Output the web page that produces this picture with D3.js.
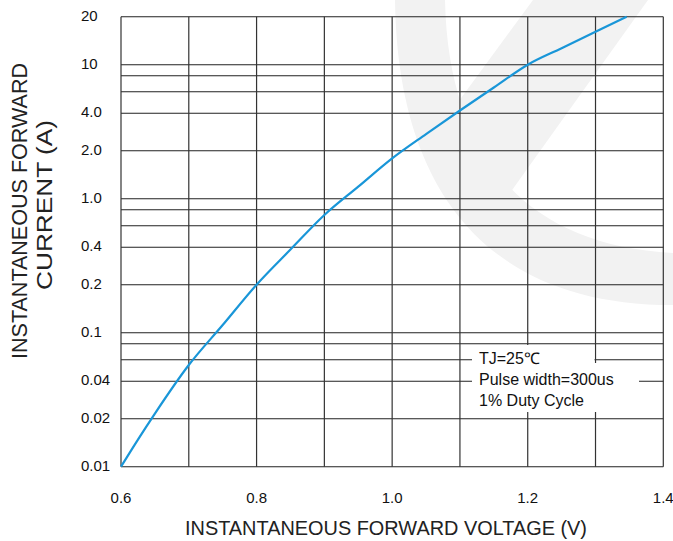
<!DOCTYPE html>
<html>
<head>
<meta charset="utf-8">
<script src="https://cdn.jsdelivr.net/npm/d3@7"></script>
<style>
  body { margin: 0; background: #fff; }
  svg { display: block; font-family: "Liberation Sans", Arial, sans-serif; }
</style>
</head>
<body>
<div id="chart"></div>
<script>
// curve
var voltage = [0.6, 0.625, 0.65, 0.7, 0.75, 0.8, 0.85, 0.9, 0.95, 1.0, 1.05, 1.1, 1.15, 1.2, 1.25, 1.3, 1.346];
var current = [0.01, 0.0148, 0.022, 0.0543, 0.1117, 0.2, 0.383, 0.727, 1.19, 1.79, 2.72, 4.21, 6.47, 10, 12.7, 16.1, 20];

var xTicks = [0.6, 0.7, 0.8, 0.9, 1.0, 1.1, 1.2, 1.3, 1.4];
var xLabels = ["0.6", "0.8", "1.0", "1.2", "1.4"];
var yGrid = [0.01, 0.02, 0.04, 0.06, 0.08, 0.1, 0.2, 0.4, 0.6, 0.8, 1, 2, 4, 6, 8, 10, 20];
var yLabelVals = [20, 10, 4, 2, 1, 0.4, 0.2, 0.1, 0.04, 0.02, 0.01];
var yLabels = ["20", "10", "4.0", "2.0", "1.0", "0.4", "0.2", "0.1", "0.04", "0.02", "0.01"];
var notes = ["TJ=25\u2103", "Pulse width=300us", "1% Duty Cycle"];

var W = 673, H = 541;
var left = 121, right = 663.3, bottom = 466.7;

var svg = d3.select("#chart").append("svg")
    .attr("width", W)
    .attr("height", H);

// faint watermark in the background
svg.append("path")
    .attr("d", "M395,0 C397,170 470,305 673,305 L673,253 C520,245 448,150 445,0 Z")
    .attr("fill", "#f2f2f2");
svg.append("path")
    .attr("d", "M533,0 L648,0 L505,200 L445,120 Z")
    .attr("fill", "#f2f2f2");

var x = d3.scaleLinear().domain([0.6, 1.4]).range([left, right]);

// the paper grid is not a true log grid: each decade is split 1-2-4-6-8 with fixed steps
var mantissa = [1, 2, 4, 6, 8];
var mantStep = [0, 48, 85.5, 107, 123];
var decadeH = 134;
var yDom = [], yRng = [];
[-2, -1, 0, 1].forEach(function (k, i) {
    mantissa.forEach(function (m, j) {
        var v = +(m * Math.pow(10, k)).toPrecision(3);
        if (v <= 20) {
            yDom.push(v);
            yRng.push(bottom - i * decadeH - mantStep[j]);
        }
    });
});
var y = d3.scaleLog().domain(yDom).range(yRng);

// grid
svg.append("g").selectAll("line")
    .data(yGrid)
    .enter()
    .append("line")
    .attr("x1", left).attr("x2", right)
    .attr("y1", function (d) { return y(d); })
    .attr("y2", function (d) { return y(d); })
    .attr("stroke", "#222")
    .attr("stroke-width", 1.1);

svg.append("g").selectAll("line")
    .data(xTicks)
    .enter()
    .append("line")
    .attr("x1", function (d) { return x(d); })
    .attr("x2", function (d) { return x(d); })
    .attr("y1", y(20)).attr("y2", y(0.01))
    .attr("stroke", "#333")
    .attr("stroke-width", 1.2);

// note box cut out of the grid
svg.append("rect").attr("x", 472).attr("y", 345).attr("width", 122.5).attr("height", 19).attr("fill", "#fff");
svg.append("rect").attr("x", 472).attr("y", 363).attr("width", 167).attr("height", 49).attr("fill", "#fff");
svg.append("g").selectAll("text")
    .data(notes)
    .enter()
    .append("text")
    .attr("x", 479)
    .attr("y", function (d, i) { return 363.5 + i * 21; })
    .attr("font-size", "16px")
    .attr("fill", "#111")
    .text(function (d) { return d; });

// curve
var pts = voltage.map(function (v, i) { return [v, current[i]]; });
var line = d3.line()
    .x(function (d) { return x(d[0]); })
    .y(function (d) { return y(d[1]); })
    .curve(d3.curveMonotoneX);
svg.append("path")
    .datum(pts)
    .attr("d", line)
    .attr("fill", "none")
    .attr("stroke", "#1996d8")
    .attr("stroke-width", 2.2);

// tick labels
svg.append("g").selectAll("text")
    .data(yLabelVals)
    .enter()
    .append("text")
    .attr("x", 81)
    .attr("y", function (d) { return y(d) + 4; })
    .attr("font-size", "15px")
    .attr("fill", "#111")
    .text(function (d, i) { return yLabels[i]; });

svg.append("g").selectAll("text")
    .data(xLabels)
    .enter()
    .append("text")
    .attr("x", function (d) { return x(+d); })
    .attr("y", 503)
    .attr("text-anchor", "middle")
    .attr("font-size", "15px")
    .attr("fill", "#111")
    .text(function (d) { return d; });

// axis titles
svg.append("text")
    .attr("x", 386).attr("y", 535)
    .attr("text-anchor", "middle")
    .attr("font-size", "19.5px")
    .attr("fill", "#222")
    .attr("textLength", 402)
    .attr("lengthAdjust", "spacingAndGlyphs")
    .text("INSTANTANEOUS FORWARD VOLTAGE (V)");

svg.append("text")
    .attr("transform", "translate(27,211) rotate(-90)")
    .attr("text-anchor", "middle")
    .attr("font-size", "22px")
    .attr("fill", "#222")
    .attr("textLength", 296)
    .attr("lengthAdjust", "spacingAndGlyphs")
    .text("INSTANTANEOUS FORWARD");

svg.append("text")
    .attr("transform", "translate(52,205) rotate(-90)")
    .attr("text-anchor", "middle")
    .attr("font-size", "22px")
    .attr("fill", "#222")
    .attr("textLength", 170)
    .attr("lengthAdjust", "spacingAndGlyphs")
    .text("CURRENT (A)");
</script>
</body>
</html>
